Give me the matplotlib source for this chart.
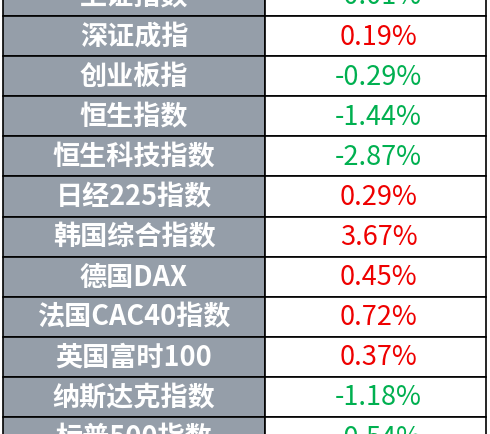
import matplotlib
matplotlib.use("Agg")
import matplotlib.pyplot as plt
from matplotlib.patches import Rectangle

plt.rcParams['font.family'] = ['Noto Sans CJK SC', 'DejaVu Sans']

names = ["上证指数", "深证成指", "创业板指", "恒生指数", "恒生科技指数", "日经225指数",
         "韩国综合指数", "德国DAX", "法国CAC40指数", "英国富时100", "纳斯达克指数", "标普500指数"]
values = [-0.01, 0.19, -0.29, -1.44, -2.87, 0.29, 3.67, 0.45, 0.72, 0.37, -1.18, -0.54]

fig = plt.figure(figsize=(4.9, 4.35), dpi=100)
ax = fig.add_axes([0, 0, 1, 1])
ax.set_xlim(0, 490)
ax.set_ylim(435, 0)
ax.axis('off')

top = -23.1
h = 40.1
xl, xm, xr = 3, 265, 486
for i, (n, v) in enumerate(zip(names, values)):
    y = top + i * h
    ax.add_patch(Rectangle((xl, y), xm - xl, h, facecolor='#959ea9', edgecolor='black', lw=1.2))
    ax.add_patch(Rectangle((xm, y), xr - xm, h, facecolor='white', edgecolor='black', lw=1.2))
    ax.text((xl + xm) / 2, y + h / 2, n, color='white', fontsize=19.5, fontweight='bold',
            ha='center', va='center')
    col = '#ee0000' if v > 0 else '#00b050'
    ax.text((xm + xr) / 2 + 3, y + h / 2, f"{v:.2f}%", color=col, fontsize=19.5,
            ha='center', va='center', family=['Noto Sans CJK SC', 'DejaVu Sans'])

fig.savefig("out.png", dpi=100)
